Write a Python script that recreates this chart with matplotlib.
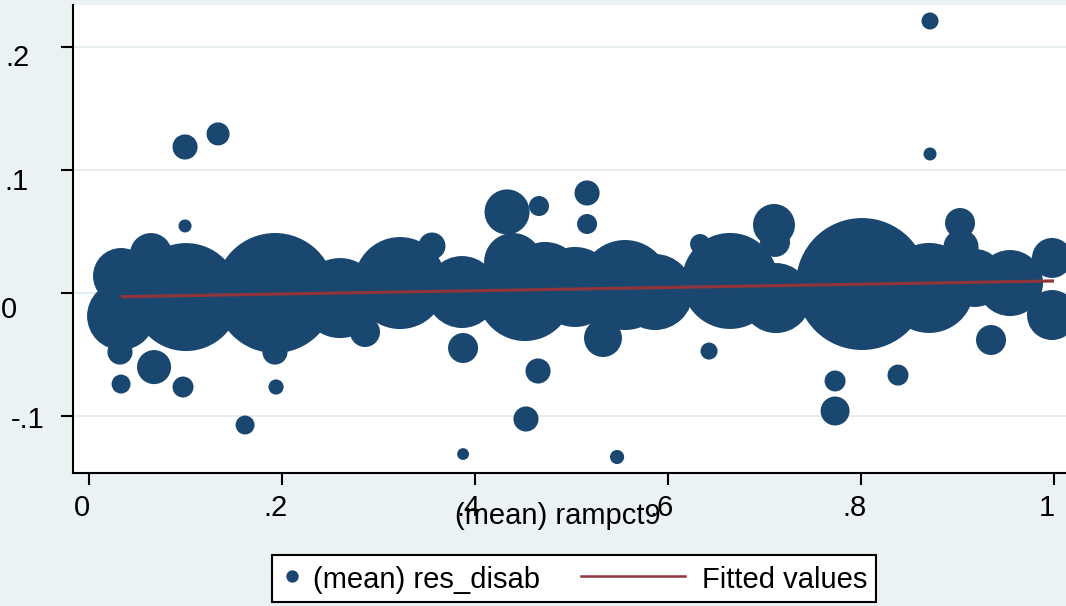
import numpy as np
import matplotlib
matplotlib.use("Agg")
import matplotlib.pyplot as plt
import matplotlib.transforms as mtransforms
from matplotlib.legend_handler import HandlerLine2D
from matplotlib.lines import Line2D

plt.rcParams['font.family'] = ['Liberation Sans', 'DejaVu Sans']

# ---------------- data ----------------
rampct9 = [0.0995, 0.0332, 0.0332, 0.0321, 0.0332, 0.0674, 0.0974, 0.0642, 0.1005, 0.1927,
           0.1927, 0.1938, 0.0995, 0.1337, 0.1617, 0.2601, 0.2860, 0.3223, 0.3554, 0.3876,
           0.4653, 0.4332, 0.4663, 0.4394, 0.4518, 0.3865, 0.5161, 0.5161, 0.5326, 0.6425,
           0.7098, 0.7109, 0.5554, 0.5865, 0.6332, 0.6642, 0.7119, 0.8010, 0.8705, 0.9026,
           0.9036, 0.9347, 0.9544, 0.9979, 0.9979, 0.7731, 0.8383, 0.7731, 0.8715, 0.8715,
           0.3876, 0.5472, 0.4528, 0.5036, 0.4725, 0.9181]
res_disab = [0.0545, 0.0138, -0.0187, -0.0480, -0.0740, -0.0602, -0.0764, 0.0317, -0.0033, 0.0000,
             -0.0480, -0.0764, 0.1187, 0.1293, -0.1073, -0.0041, -0.0317, 0.0081, 0.0382, -0.0447,
             -0.0634, 0.0659, 0.0707, 0.0252, 0.0000, 0.0008, 0.0561, 0.0813, -0.0366, -0.0472,
             0.0553, 0.0415, 0.0065, 0.0008, 0.0398, 0.0098, -0.0041, 0.0073, 0.0041, 0.0569,
             0.0374, -0.0382, 0.0081, 0.0285, -0.0179, -0.0715, -0.0667, -0.0959, 0.2211, 0.1130,
             -0.1309, -0.1333, -0.1024, 0.0049, 0.0106, 0.0122]
weight = [1.7, 31.4, 46.2, 6.3, 3.6, 11.6, 4.4, 17.6, 116.6, 144.0,
          6.3, 2.3, 6.3, 5.3, 3.6, 64.0, 9.0, 84.6, 7.3, 9.0,
          6.3, 20.3, 4.0, 33.6, 92.2, 51.8, 4.0, 6.3, 14.4, 2.9,
          17.6, 9.0, 81.0, 57.8, 4.0, 92.2, 49.0, 174.2, 81.0, 9.0,
          12.3, 9.0, 43.6, 16.0, 25.0, 4.4, 4.4, 8.4, 2.9, 1.7,
          1.4, 2.0, 6.3, 64.0, 57.8, 33.6]

fit_x = [0.033, 1.0]
fit_y = [-0.0030, 0.0098]

xticks = [0, 0.2, 0.4, 0.6, 0.8, 1.0]
xticklabels = ['0', '.2', '.4', '.6', '.8', '1']
yticks = [-0.1, 0, 0.1, 0.2]
yticklabels = ['-.1', '0', '.1', '.2']

# ---------------- style ----------------
NAVY = '#1A476F'
MAROON = '#90353B'
BG = '#EAF2F3'
GRID = '#E4ECEE'
FS = 21

W, H = 1066, 606
fig = plt.figure(figsize=(W / 100, H / 100), dpi=100, facecolor=BG)
ax = fig.add_axes([73 / W, 1 - 473 / H, (W - 73) / W, (473 - 5) / H])
ax.set_facecolor('white')

size_scale = 51.84
ax.scatter(rampct9, res_disab, s=np.array(weight) * size_scale, c=NAVY,
           edgecolors='none', zorder=2)
ax.plot(fit_x, fit_y, color=MAROON, lw=2.3, zorder=3, solid_capstyle='butt')

ax.set_xlim(-0.0166, 1.0124)
ax.set_ylim(-0.1463, 0.2341)

ax.set_xticks(xticks)
ax.set_xticklabels(xticklabels, fontsize=FS)
ax.set_yticks(yticks)
ax.set_yticklabels(yticklabels, fontsize=FS)

ax.yaxis.grid(True, color=GRID, lw=1.3)
ax.xaxis.grid(False)
ax.set_axisbelow(True)

for sp in ['top', 'right']:
    ax.spines[sp].set_visible(False)
for sp in ['left', 'bottom']:
    ax.spines[sp].set_linewidth(1.5)
    ax.spines[sp].set_color('black')

ax.tick_params(axis='both', direction='out', length=8.6, width=1.5, color='black')
ax.tick_params(axis='x', pad=6.5)
ax.tick_params(axis='y', pad=31)

# x tick label offsets
for lab in ax.get_xticklabels():
    lab.set_transform(lab.get_transform() +
                      mtransforms.ScaledTranslation(-7 / 100, 0, fig.dpi_scale_trans))
# y tick label placement
ydx = [9.5, -9, -1.5, -0.5]
ydy = [4, 17, 12.5, 11]
for lab, dx, dy in zip(ax.get_yticklabels(), ydx, ydy):
    lab.set_ha('center')
    lab.set_va('center')
    lab.set_transform(lab.get_transform() +
                      mtransforms.ScaledTranslation(dx / 100, -dy / 100, fig.dpi_scale_trans))

ax.set_xlabel('(mean) rampct9', fontsize=FS)
ax.xaxis.set_label_coords((558 - 73) / (W - 73), -0.062)


class HandlerShiftLine(HandlerLine2D):
    def __init__(self, x0, x1, **kw):
        super().__init__(**kw)
        self.x0, self.x1 = x0, x1

    def get_xdata(self, legend, xdescent, ydescent, width, height, fontsize):
        xd = [-xdescent + self.x0 * fontsize, -xdescent + self.x1 * fontsize]
        return xd, [0.5 * (xd[0] + xd[1])]


h_pts = Line2D([], [], marker='o', ls='none', color=NAVY, markersize=8.9,
               markeredgewidth=0)
h_fit = Line2D([], [], color=MAROON, lw=1.8)
leg = fig.legend([h_pts, h_fit], ['(mean) res_disab', 'Fitted values'],
                 loc='upper left', bbox_to_anchor=(271.5 / W, 1 - 555 / H),
                 bbox_transform=fig.transFigure, borderaxespad=0,
                 ncol=2, fontsize=FS, handlelength=0.8, handletextpad=0.33,
                 columnspacing=4.4, borderpad=0.3, handleheight=1.1,
                 fancybox=False, framealpha=1, edgecolor='black',
                 handler_map={h_fit: HandlerShiftLine(-3.0, 0.55)})
leg.get_frame().set_linewidth(1.5)

fig.savefig('out.png', dpi=100, facecolor=BG)
